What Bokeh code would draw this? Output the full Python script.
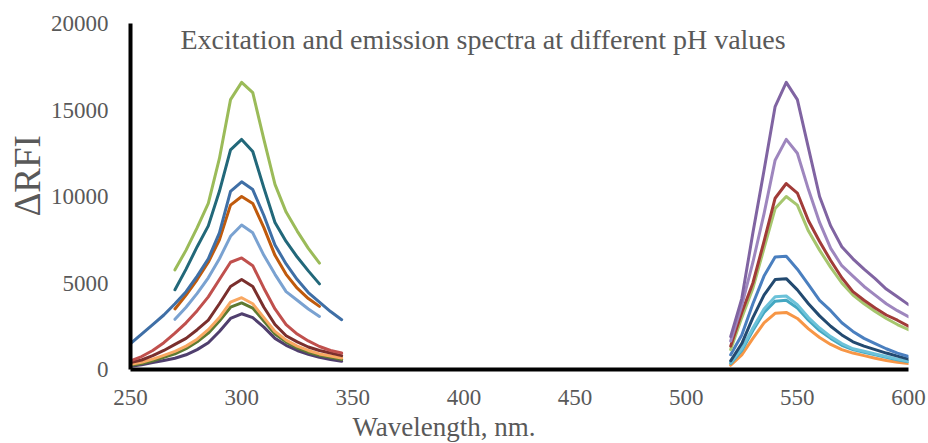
import math
from bokeh.plotting import figure
from bokeh.models import Label, FixedTicker, Title
from bokeh.embed import file_html
from bokeh.resources import INLINE

# ---------------- data ----------------
ex_wl_short = [270, 275, 280, 285, 290, 295, 300, 305, 310, 315, 320, 325, 330, 335]
ex_wl_long = [250, 255, 260, 265, 270, 275, 280, 285, 290, 295, 300, 305, 310, 315, 320, 325, 330, 335, 340, 345]
em_wl = [520, 525, 530, 535, 540, 545, 550, 555, 560, 565, 570, 575, 580, 585, 590, 595, 600]

# excitation, short range
ex_green = [5760, 6900, 8200, 9600, 12200, 15600, 16600, 16000, 13300, 10700, 9100, 8000, 7000, 6150]
ex_teal = [4610, 5800, 7100, 8300, 10300, 12700, 13300, 12600, 10500, 8500, 7400, 6500, 5700, 4950]
ex_brown = [3500, 4300, 5200, 6200, 7500, 9500, 10000, 9600, 8200, 6600, 5500, 4700, 4100, 3650]
ex_lightblue = [2900, 3600, 4400, 5300, 6400, 7700, 8350, 7900, 6600, 5500, 4500, 4000, 3500, 3070]

# excitation, long range
ex_blue = [1500, 2050, 2600, 3150, 3800, 4500, 5400, 6400, 7900, 10300, 10850, 10400, 8900, 7200, 6100, 5200, 4450, 3900, 3350, 2880]
ex_red = [500, 750, 1100, 1550, 2100, 2700, 3400, 4200, 5200, 6200, 6450, 6000, 4700, 3500, 2600, 2050, 1650, 1330, 1100, 950]
ex_darkred = [400, 550, 800, 1100, 1450, 1800, 2300, 2850, 3800, 4800, 5200, 4800, 3600, 2600, 1950, 1600, 1300, 1100, 950, 800]
ex_orange = [300, 420, 600, 820, 1050, 1350, 1750, 2300, 3000, 3900, 4150, 3800, 3000, 2200, 1700, 1350, 1100, 900, 780, 670]
ex_olive = [250, 350, 500, 700, 900, 1200, 1600, 2100, 2800, 3600, 3850, 3550, 2800, 2050, 1600, 1250, 1000, 820, 700, 580]
ex_purple = [190, 280, 400, 520, 650, 850, 1150, 1550, 2200, 2950, 3220, 3000, 2450, 1800, 1400, 1100, 880, 700, 580, 480]

# emission
em_purple = [1900, 4100, 7900, 11500, 15200, 16600, 15600, 12800, 10000, 8300, 7100, 6400, 5800, 5250, 4650, 4200, 3750]
em_lavender = [1650, 3700, 6200, 9000, 12100, 13300, 12500, 10400, 8500, 7000, 6000, 5400, 4800, 4300, 3800, 3400, 3050]
em_darkred = [1350, 3300, 5000, 7400, 9900, 10750, 10200, 8600, 7400, 6300, 5300, 4500, 4000, 3550, 3150, 2850, 2500]
em_green = [1150, 3000, 4700, 7000, 9300, 10000, 9500, 8000, 6900, 5900, 5000, 4300, 3800, 3350, 2950, 2600, 2300]
em_blue = [850, 2000, 3800, 5400, 6500, 6550, 5800, 4900, 4000, 3400, 2700, 2200, 1800, 1500, 1200, 950, 750]
em_navy = [500, 1500, 3000, 4300, 5200, 5250, 4600, 3800, 3100, 2500, 2000, 1600, 1350, 1150, 950, 770, 600]
em_cyan1 = [400, 1200, 2400, 3500, 4200, 4250, 3750, 3000, 2400, 1900, 1500, 1200, 1050, 900, 750, 600, 480]
em_cyan2 = [350, 1100, 2250, 3300, 3950, 4000, 3550, 2850, 2250, 1800, 1400, 1150, 1000, 850, 700, 560, 450]
em_orange = [250, 850, 1800, 2700, 3250, 3300, 2950, 2350, 1850, 1450, 1150, 950, 800, 650, 520, 420, 350]

x_ticks = [250, 300, 350, 400, 450, 500, 550, 600]
y_ticks = [0, 5000, 10000, 15000, 20000]

title_text = "Excitation and emission spectra at different pH values"
x_title = "Wavelength, nm."
y_title = "ΔRFI"

# ---------------- figure ----------------
FONT = "Liberation Serif"
GREY = "#595959"

p = figure(width=928, height=443, x_range=(250, 600), y_range=(0, 20000),
           output_backend="svg", toolbar_location=None,
           min_border_left=130, min_border_right=20,
           min_border_top=23, min_border_bottom=73)
p.outline_line_color = None
p.grid.visible = False
p.background_fill_color = "white"
p.border_fill_color = "white"

for ax in (p.xaxis, p.yaxis):
    ax.axis_line_width = 4
    ax.axis_line_color = "black"
    ax.major_tick_line_color = None
    ax.minor_tick_line_color = None
    ax.major_label_text_font = FONT
    ax.major_label_text_font_size = "23px"
    ax.major_label_text_color = GREY

p.xaxis.ticker = FixedTicker(ticks=x_ticks)
p.yaxis.ticker = FixedTicker(ticks=y_ticks)
p.xaxis.major_label_standoff = 14
p.yaxis.major_label_standoff = 16

LW = 3
series = [
    (ex_wl_long, ex_purple, "#503F6E"),
    (ex_wl_long, ex_olive, "#5E7A31"),
    (ex_wl_long, ex_orange, "#F9A862"),
    (ex_wl_long, ex_darkred, "#7A2F2D"),
    (ex_wl_long, ex_red, "#C0504D"),
    (ex_wl_short, ex_lightblue, "#7AA2D1"),
    (ex_wl_short, ex_brown, "#C05A0C"),
    (ex_wl_long, ex_blue, "#3F6FA6"),
    (ex_wl_short, ex_teal, "#22687A"),
    (ex_wl_short, ex_green, "#9BBB59"),
    (em_wl, em_orange, "#F79646"),
    (em_wl, em_cyan2, "#44A8C2"),
    (em_wl, em_cyan1, "#6CC2D9"),
    (em_wl, em_navy, "#234A70"),
    (em_wl, em_blue, "#4A7FBF"),
    (em_wl, em_green, "#A6C66E"),
    (em_wl, em_darkred, "#A13B38"),
    (em_wl, em_lavender, "#9E86BE"),
    (em_wl, em_purple, "#8064A2"),
]
for xs, ys, c in series:
    p.line(xs, ys, line_color=c, line_width=LW, line_join="round", line_cap="round")

# chart title inside the frame (Label screen coords are relative to the frame)
p.add_layout(Label(x=50, y=330, x_units="screen", y_units="screen", text=title_text,
                   text_font=FONT, text_font_size="28px", text_color=GREY,
                   text_align="left", text_baseline="middle"))

# axis titles as side-panel titles
p.add_layout(Title(text=x_title, align="left", offset=222, standoff=4,
                   text_font=FONT, text_font_size="27px", text_font_style="normal",
                   text_color=GREY), "below")
p.add_layout(Title(text=y_title, align="left", offset=153, standoff=0,
                   text_font=FONT, text_font_size="37px", text_font_style="normal",
                   text_color=GREY), "left")

open("out.html", "w").write(file_html(p, INLINE))
